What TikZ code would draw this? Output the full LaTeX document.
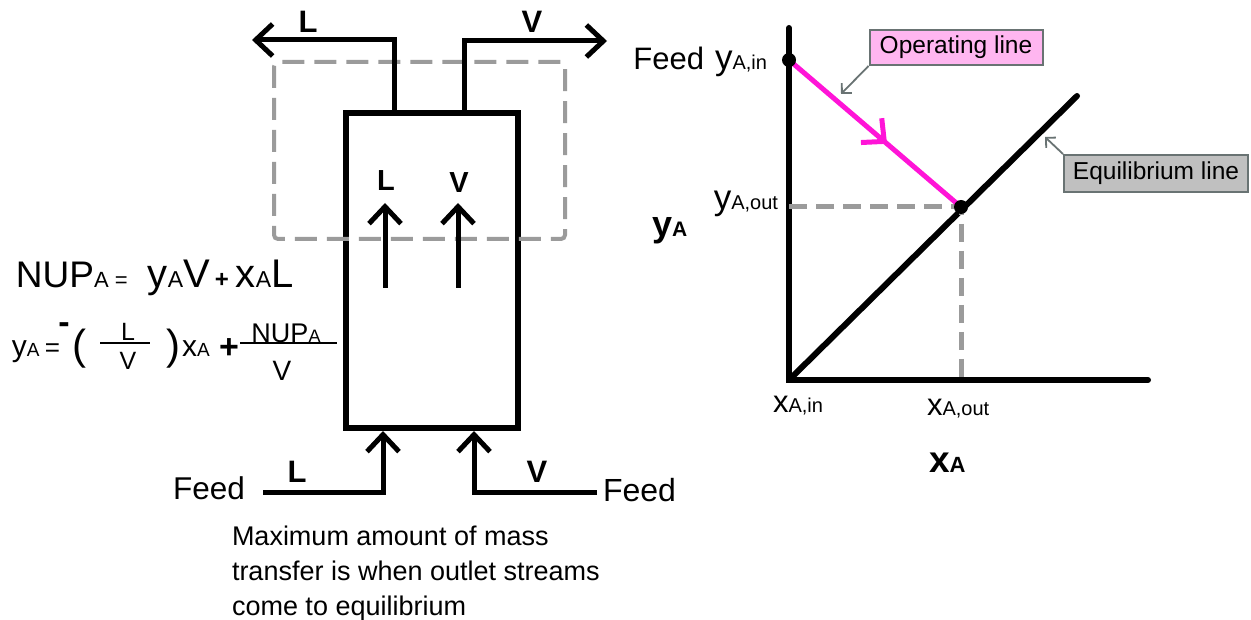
\documentclass[tikz,border=0pt]{standalone}
\usepackage{fontspec}
\setmainfont{Liberation Sans}
\usetikzlibrary{arrows.meta,decorations.markings,positioning}
\definecolor{dashgray}{RGB}{155,155,155}
\definecolor{opmagenta}{RGB}{255,20,215}
\definecolor{oppink}{RGB}{255,182,240}
\definecolor{pointgray}{RGB}{105,115,115}
\definecolor{eqgray}{RGB}{192,192,192}
\newcommand{\fs}[1]{\fontsize{#1}{#1}\selectfont}
\tikzset{
  txt/.style={inner sep=0pt,outer sep=0pt},
  flow/.style={line width=5pt,-{Straight Barb[length=17pt,width=32pt]}},
  flowlbl/.style={txt,font=\fs{31}\bfseries},
  pointer/.style={pointgray,line width=1.8pt,-{Straight Barb[length=7pt,width=14pt]}},
  callout/.style={draw=pointgray,line width=2pt,inner sep=0pt,font=\fs{24.5}}
}
\begin{document}
\begin{tikzpicture}[x=1pt,y=-1pt]
\useasboundingbox (0,0) rectangle (1251,620);
% column and control volume
\node[draw,line width=6pt,minimum width=172pt,minimum height=315pt,inner sep=0pt] (col) at (432,270.5) {};
\draw[dashgray,line width=4pt,dash pattern=on 22pt off 10pt,rounded corners=4pt] (274,62) rectangle (565,239);
\coordinate (ltop) at ([xshift=-38pt]col.north);
\coordinate (vtop) at ([xshift=32pt]col.north);
\coordinate (lend) at (252,40);
\coordinate (vend) at (607,41);
\draw[flow] (ltop) |- (lend);
\draw[flow] (vtop) |- (vend);
\node[flowlbl] (loutlbl) at (308,22) {L};
\node[flowlbl] (voutlbl) at (532,22) {V};
% flows inside
\coordinate (lup0) at (385,288);
\coordinate (lup1) at (385,203);
\coordinate (vup0) at (458,288);
\coordinate (vup1) at (458,203);
\draw[flow] (lup0) -- (lup1);
\draw[flow] (vup0) -- (vup1);
\node[flowlbl,font=\fs{29}\bfseries] (lin) at (386,181) {L};
\node[flowlbl,font=\fs{29}\bfseries] (vin) at (459,183) {V};
% feeds
\coordinate (lbot) at ([xshift=-49pt]col.south);
\coordinate (vbot) at ([xshift=42pt]col.south);
\coordinate (lfeed) at (263,492);
\coordinate (vfeed) at (597,492);
\draw[flow] (lfeed) -| (lbot);
\draw[flow] (vfeed) -| (vbot);
\node[flowlbl] (lfeedlbl) at (297,472) {L};
\node[flowlbl] (vfeedlbl) at (537,472) {V};
\node[txt,anchor=base east,font=\fs{31.5}] (feedl) at (245,499) {Feed};
\node[txt,anchor=base west,font=\fs{32}] (feedv) at (603,501) {Feed};
\node[txt,anchor=north west,align=left,font=\fontsize{27}{35}\selectfont] (note) at (232,526)
  {Maximum amount of mass\\transfer is when outlet streams\\come to equilibrium};
% balance
\node[txt,anchor=base west] (nup) at (16,288)
  {\fs{37}NUP\fs{22}A =\hspace{20pt}\fs{40}y\fs{23}A\fs{40}V\hspace{5pt}\fs{24}\bfseries+\hspace{7pt}\mdseries\fs{40}x\fs{23}A\fs{40}L};
\node[txt,anchor=base west] (eqy) at (12,357) {\fs{30}y\fs{19}A \fs{26}=};
\node[txt,font=\fs{34}\bfseries] (eqminus) at (64,328) {-};
\node[txt,font=\fs{42}] (lparen) at (79,349) {(};
\node[txt,font=\fs{25}] (fracl) at (128,332) {L};
\node[txt,font=\fs{25}] (fracv) at (128,361) {V};
\draw[line width=1.5pt] (100,343) -- (150,343);
\node[txt,font=\fs{42}] (rparen) at (173,349) {)};
\node[txt,anchor=base west] (eqx) at (182,357) {\fs{30}x\fs{19}A};
\node[txt,font=\fs{34}\bfseries] (eqplus) at (229,349) {+};
\node[txt] (fracnup) at (286,333) {\fs{27}NUP\fs{18}A};
\node[txt,font=\fs{28}] (fracv2) at (282,371) {V};
\draw[line width=1.5pt] (240,343) -- (337,343);
% operating diagram
\coordinate (orig) at (789,380);
\coordinate (ytop) at (789,28);
\coordinate (xend) at (1148,380);
\coordinate (eqend) at (1077,96);
\coordinate (yin) at (789,60);
\coordinate (pinch) at (961,207);
\draw[line width=6pt,line cap=round] (ytop) -- (orig) -- (xend);
\draw[line width=6pt,line cap=round] (orig) -- (eqend);
\draw[dashgray,line width=5pt,dash pattern=on 18pt off 9pt] (pinch -| orig) -- (pinch) -- (pinch |- orig);
\draw[opmagenta,line width=5pt,postaction={decorate,decoration={markings,
  mark=at position 0.57 with {\arrow{Straight Barb[length=17pt,width=32pt]}}}}] (yin) -- (pinch);
\fill (yin) circle[radius=7pt];
\fill (pinch) circle[radius=7pt];
\node[txt,anchor=base east] (yinlbl) at (767,70) {\fs{31}Feed\hspace{11pt}\fs{35}y\fs{20}A,in};
\node[txt,anchor=base east] (youtlbl) at (778,210) {\fs{35}y\fs{20}A,out};
\node[txt,anchor=base west] (yaxis) at (652,237) {\fs{36}\bfseries y\fs{21}A};
\node[txt,anchor=base west] (xinlbl) at (773,412) {\fs{31}x\fs{20}A,in};
\node[txt,anchor=base west] (xoutlbl) at (927,415) {\fs{31}x\fs{20}A,out};
\node[txt,anchor=base west] (xaxis) at (929,472) {\fs{37}\bfseries x\fs{22}A};
% callouts
\node[callout,fill=oppink,minimum width=173pt,minimum height=35pt] (opline) at (956,47.5) {Operating line};
\node[callout,fill=eqgray,minimum width=184pt,minimum height=37pt] (eqline) at (1156,173.5) {Equilibrium line};
\coordinate (opptr) at (841,94);
\coordinate (eqptr) at (1045,137);
\draw[pointer] (opline.south west) -- (opptr);
\draw[pointer] (eqline.north west) -- (eqptr);
\end{tikzpicture}
\end{document}
